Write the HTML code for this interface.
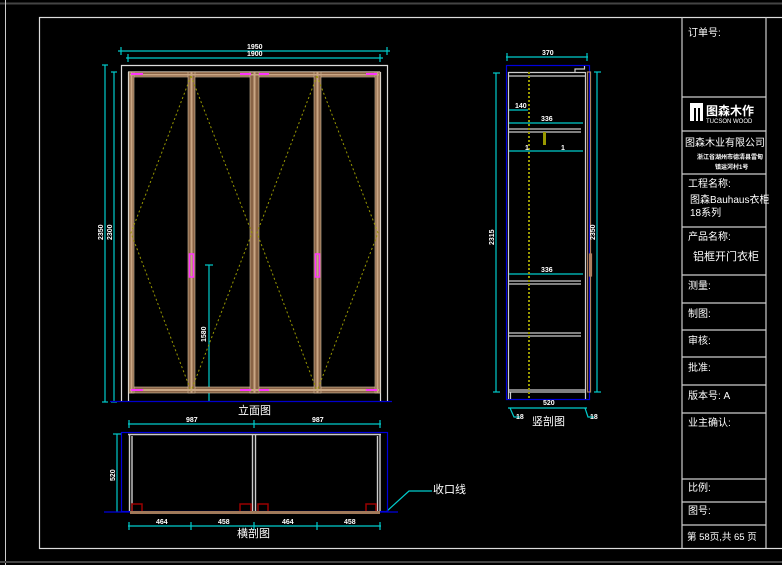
<!DOCTYPE html>
<html><head><meta charset="utf-8"><style>
html,body{margin:0;padding:0;background:#000;}
svg{display:block}
text{font-family:"Liberation Sans","Noto Sans CJK SC",sans-serif;fill:#fff}
</style></head><body>
<svg width="782" height="565" viewBox="0 0 782 565" xmlns="http://www.w3.org/2000/svg">
<rect width="782" height="565" fill="#000"/>
<line x1="0" y1="3.5" x2="782" y2="3.5" stroke="#444" stroke-width="2"/>
<line x1="5.5" y1="0" x2="5.5" y2="565" stroke="#ccc" stroke-width="1"/>
<line x1="0" y1="562" x2="782" y2="562" stroke="#444" stroke-width="2"/>
<rect x="39.5" y="17.5" width="745" height="531" fill="none" stroke="#ddd" stroke-width="1.2"/>
<g stroke="#ccc" stroke-width="1.2" fill="none">
<line x1="682" y1="17" x2="682" y2="548"/>
<line x1="766" y1="17" x2="766" y2="548"/>
<line x1="682" y1="97" x2="766" y2="97"/>
<line x1="682" y1="131" x2="766" y2="131"/>
<line x1="682" y1="174" x2="766" y2="174"/>
<line x1="682" y1="227" x2="766" y2="227"/>
<line x1="682" y1="275" x2="766" y2="275"/>
<line x1="682" y1="303" x2="766" y2="303"/>
<line x1="682" y1="330" x2="766" y2="330"/>
<line x1="682" y1="357" x2="766" y2="357"/>
<line x1="682" y1="385" x2="766" y2="385"/>
<line x1="682" y1="413" x2="766" y2="413"/>
<line x1="682" y1="479" x2="766" y2="479"/>
<line x1="682" y1="502" x2="766" y2="502"/>
<line x1="682" y1="525" x2="766" y2="525"/>
</g>
<g font-size="10">
<text x="688" y="36">订单号:</text>
<rect x="690" y="103" width="13" height="18" fill="#fff"/>
<rect x="694" y="108" width="2" height="13" fill="#000"/><rect x="698" y="108" width="2" height="13" fill="#000"/>
<text x="706" y="115" font-size="12" font-weight="bold">图森木作</text>
<text x="706" y="123" font-size="6">TUCSON WOOD</text>
<text x="685" y="146" font-size="10">图森木业有限公司</text>
<text x="697" y="159" font-size="6" font-weight="bold">浙江省湖州市德清县雷甸</text>
<text x="715" y="169" font-size="6" font-weight="bold">镇运河村1号</text>
<text x="688" y="187">工程名称:</text>
<text x="690" y="203">图森Bauhaus衣柜</text>
<text x="690" y="216">18系列</text>
<text x="688" y="240">产品名称:</text>
<text x="693" y="260" font-size="11">铝框开门衣柜</text>
<text x="688" y="289">测量:</text>
<text x="688" y="317">制图:</text>
<text x="688" y="344">审核:</text>
<text x="688" y="371">批准:</text>
<text x="688" y="399">版本号: A</text>
<text x="688" y="426">业主确认:</text>
<text x="688" y="491">比例:</text>
<text x="688" y="514">图号:</text>
<text x="687" y="540" font-size="9.5">第 58页,共 65 页</text>
</g>

<g stroke="#0cc" stroke-width="1.2" fill="none">
<line x1="118" y1="51" x2="390" y2="51"/><line x1="121" y1="47" x2="121" y2="55"/><line x1="387" y1="47" x2="387" y2="55"/>
<line x1="126" y1="58" x2="383" y2="58"/><line x1="128" y1="54" x2="128" y2="62"/><line x1="380" y1="54" x2="380" y2="62"/>
<line x1="105" y1="65" x2="105" y2="402"/><line x1="102" y1="65" x2="108" y2="65"/><line x1="102" y1="402" x2="108" y2="402"/>
<line x1="114" y1="72" x2="114" y2="402"/><line x1="111" y1="72" x2="117" y2="72"/><line x1="111" y1="402" x2="117" y2="402"/>
<line x1="209" y1="265" x2="209" y2="402"/><line x1="205" y1="265" x2="213" y2="265"/>
</g>
<g font-size="7" font-weight="bold">
<text x="247" y="49">1950</text><text x="247" y="56">1900</text>
<text transform="translate(103,240) rotate(-90)">2350</text>
<text transform="translate(112,240) rotate(-90)">2300</text>
<text transform="translate(206,342) rotate(-90)">1580</text>
</g>
<line x1="110" y1="401.5" x2="392" y2="401.5" stroke="#0000cc" stroke-width="1.2"/>
<g fill="none" stroke="#ddd" stroke-width="1.2">
<path d="M121.5 401 V65.5 H387.5 V401"/>
<path d="M128.5 401 V72 M380.5 72 V401"/>
<line x1="128" y1="72" x2="380" y2="72"/>
</g>
<g fill="#8a6446" stroke="#d8c0a0" stroke-width="0.6">
<rect x="129" y="72" width="251" height="5"/>
<rect x="129" y="387" width="251" height="6"/>
<rect x="129" y="72" width="5" height="321"/>
<rect x="188" y="72" width="7" height="321"/>
<rect x="250" y="72" width="9" height="321"/>
<rect x="314" y="72" width="7" height="321"/>
<rect x="375" y="72" width="5" height="321"/>
</g>
<g fill="#c9a684">
<rect x="130" y="74" width="249" height="1.5"/>
<rect x="130" y="389" width="249" height="2"/>
<rect x="130.5" y="72" width="2" height="321"/>
<rect x="190.5" y="72" width="2" height="321"/>
<rect x="253.5" y="72" width="2" height="321"/>
<rect x="316.5" y="72" width="2" height="321"/>
<rect x="376.5" y="72" width="2" height="321"/>
</g>
<g stroke="#ff33ff" stroke-width="2">
<line x1="131" y1="74" x2="143" y2="74"/><line x1="240" y1="74" x2="251" y2="74"/>
<line x1="259" y1="74" x2="269" y2="74"/><line x1="366" y1="74" x2="377" y2="74"/>
<line x1="131" y1="390" x2="143" y2="390"/><line x1="240" y1="390" x2="251" y2="390"/>
<line x1="259" y1="390" x2="269" y2="390"/><line x1="366" y1="390" x2="377" y2="390"/>
</g>
<g fill="none" stroke="#ff33ff" stroke-width="1.5">
<rect x="189.5" y="254" width="4" height="23"/><rect x="315.5" y="254" width="4" height="23"/>
</g>
<g fill="none" stroke="#999900" stroke-width="1" stroke-dasharray="2 2.5">
<path d="M191 76 L131 233 L191 391"/><path d="M191 76 L252 233 L191 391"/>
<path d="M317 76 L257 233 L317 391"/><path d="M317 76 L378 233 L317 391"/>
</g>
<text x="238" y="414" font-size="11">立面图</text>

<g stroke="#0cc" stroke-width="1.2" fill="none">
<line x1="506" y1="57" x2="588" y2="57"/><line x1="507" y1="53" x2="507" y2="61"/><line x1="587" y1="53" x2="587" y2="61"/>
<line x1="496" y1="73" x2="496" y2="392"/><line x1="493" y1="73" x2="500" y2="73"/><line x1="493" y1="392" x2="500" y2="392"/>
<line x1="597" y1="72" x2="597" y2="392"/><line x1="594" y1="72" x2="601" y2="72"/><line x1="594" y1="392" x2="601" y2="392"/>
<line x1="508" y1="110" x2="528" y2="110"/>
<line x1="508" y1="123" x2="583" y2="123"/>
<line x1="508" y1="151" x2="583" y2="151"/>
<line x1="508" y1="274" x2="583" y2="274"/>
<line x1="508" y1="408" x2="587" y2="408"/>
<path d="M510 408 L514 417 H520"/><path d="M585 408 L588 417 H594"/>
</g>
<rect x="506.5" y="65.5" width="83" height="334" fill="none" stroke="#0000dd" stroke-width="1.2"/>
<g fill="none" stroke="#ccc" stroke-width="1.2">
<path d="M508.5 399 V72.5 H585.5"/><line x1="508" y1="76" x2="586" y2="76"/>
<path d="M575 72 V69 H584.5 V66"/>
<line x1="509" y1="129" x2="581" y2="129"/><line x1="509" y1="132" x2="581" y2="132"/>
<line x1="509" y1="281" x2="581" y2="281"/><line x1="509" y1="284" x2="581" y2="284"/>
<line x1="509" y1="333" x2="581" y2="333"/><line x1="509" y1="336" x2="581" y2="336"/>
<line x1="509" y1="390" x2="585" y2="390"/><line x1="509" y1="392" x2="585" y2="392"/>
<path d="M510.5 392 V399 M585.5 392 V399"/>
<line x1="585.5" y1="72" x2="585.5" y2="392"/>
</g>
<g fill="none" stroke="#b08060" stroke-width="1.2">
<rect x="587.5" y="72" width="3" height="320"/>
<rect x="589.5" y="254" width="2" height="22"/>
</g>
<line x1="529" y1="72" x2="529" y2="400" stroke="#999900" stroke-width="2" stroke-dasharray="2 2"/>
<rect x="543" y="132" width="3" height="13" fill="#999900"/>
<g font-size="7" font-weight="bold">
<text x="542" y="55">370</text><text x="515" y="108">140</text><text x="541" y="121">336</text>
<text x="525" y="150">1</text><text x="561" y="150">1</text><text x="541" y="272">336</text>
<text x="543" y="405">520</text><text x="516" y="419">18</text><text x="590" y="419">18</text>
<text transform="translate(494,245) rotate(-90)">2315</text>
<text transform="translate(595,240) rotate(-90)">2350</text>
</g>
<text x="532" y="425" font-size="11">竖剖图</text>

<g stroke="#0cc" stroke-width="1.2" fill="none">
<line x1="128" y1="424" x2="381" y2="424"/><line x1="129" y1="420" x2="129" y2="428"/><line x1="254" y1="420" x2="254" y2="428"/><line x1="380" y1="420" x2="380" y2="428"/>
<line x1="117" y1="434" x2="117" y2="512"/><line x1="113" y1="434" x2="121" y2="434"/>
<line x1="128" y1="526" x2="381" y2="526"/><line x1="129" y1="522" x2="129" y2="530"/><line x1="191" y1="522" x2="191" y2="530"/><line x1="254" y1="522" x2="254" y2="530"/><line x1="317" y1="522" x2="317" y2="530"/><line x1="380" y1="522" x2="380" y2="530"/>
<path d="M387 511 L409 491 H432"/>
</g>
<rect x="121.5" y="432.5" width="266" height="79" fill="none" stroke="#0000dd" stroke-width="1.2"/>
<line x1="104" y1="512" x2="398" y2="512" stroke="#0000dd" stroke-width="1.2"/>
<g fill="none" stroke="#ccc" stroke-width="1.4">
<line x1="128" y1="434.5" x2="381" y2="434.5"/>
<path d="M129.5 434 V511 M132 436 V511"/>
<path d="M252.5 434 V511 M255.5 434 V511"/>
<path d="M377.5 436 V511 M380 434 V511"/>
</g>
<g fill="none" stroke="#990000" stroke-width="1.5">
<path d="M132 511 V504 H142 V511"/><path d="M240 511 V504 H251 V511"/><path d="M258 511 V504 H268 V511"/><path d="M366 511 V504 H376 V511"/>
</g>
<rect x="130" y="511" width="250" height="3" fill="#a0795a"/>
<g font-size="7" font-weight="bold">
<text x="186" y="422">987</text><text x="312" y="422">987</text>
<text x="156" y="524">464</text><text x="218" y="524">458</text><text x="282" y="524">464</text><text x="344" y="524">458</text>
<text transform="translate(115,481) rotate(-90)">520</text>
</g>
<text x="237" y="537" font-size="11">横剖图</text>
<text x="433" y="493" font-size="11">收口线</text>
</svg>
</body></html>
